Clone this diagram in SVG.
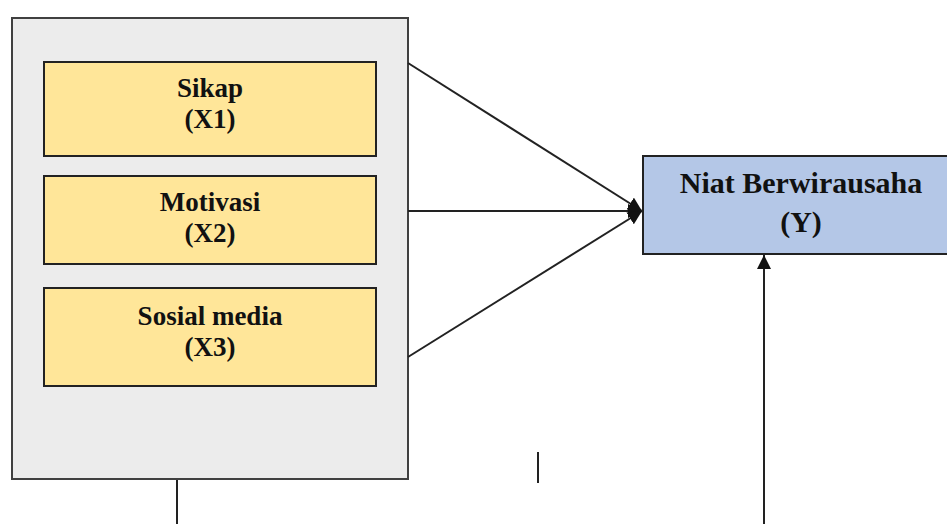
<svg xmlns="http://www.w3.org/2000/svg" width="947" height="524" viewBox="0 0 947 524">
  <style>
    .lbl { font-family: "Liberation Serif", "Times New Roman", serif; font-weight: bold; fill: #111; text-anchor: middle; }
    .var { fill: #ffe699; stroke: #222; stroke-width: 2; }
    .wire { stroke: #222; stroke-width: 2; fill: none; }
  </style>
  <defs>
    <marker id="head" viewBox="0 0 10 10" refX="10" refY="5" markerWidth="7" markerHeight="7" orient="auto" markerUnits="strokeWidth">
      <path d="M0,0 L10,5 L0,10 Z" fill="#111"/>
    </marker>
  </defs>

  <rect width="947" height="524" fill="#ffffff"/>

  <!-- grouping frame for the independent variables -->
  <g id="frame">
    <rect x="12" y="18" width="396" height="461" fill="#ececec" stroke="#404040" stroke-width="2"/>
  </g>

  <g id="x1">
    <rect class="var" x="44" y="62" width="332" height="94"/>
    <text class="lbl" x="210" y="97" font-size="27">Sikap</text>
    <text class="lbl" x="210" y="128" font-size="27">(X1)</text>
  </g>

  <g id="x2">
    <rect class="var" x="44" y="176" width="332" height="88"/>
    <text class="lbl" x="210" y="211" font-size="27">Motivasi</text>
    <text class="lbl" x="210" y="242" font-size="27">(X2)</text>
  </g>

  <g id="x3">
    <rect class="var" x="44" y="288" width="332" height="98"/>
    <text class="lbl" x="210" y="325" font-size="27">Sosial media</text>
    <text class="lbl" x="210" y="356" font-size="27">(X3)</text>
  </g>

  <g id="y">
    <rect x="643" y="156" width="310" height="98" fill="#b4c7e7" stroke="#222" stroke-width="2"/>
    <text class="lbl" x="801" y="193" font-size="30">Niat Berwirausaha</text>
    <text class="lbl" x="801" y="232" font-size="30">(Y)</text>
  </g>

  <g id="connectors">
    <line class="wire" x1="408" y1="63" x2="642" y2="211" marker-end="url(#head)"/>
    <line class="wire" x1="408" y1="211" x2="642" y2="211" marker-end="url(#head)"/>
    <line class="wire" x1="408" y1="357" x2="642" y2="211" marker-end="url(#head)"/>
    <line class="wire" x1="764" y1="524" x2="764" y2="255" marker-end="url(#head)"/>
    <line class="wire" x1="177" y1="480" x2="177" y2="524"/>
    <line class="wire" x1="538" y1="452" x2="538" y2="483"/>
  </g>
</svg>
